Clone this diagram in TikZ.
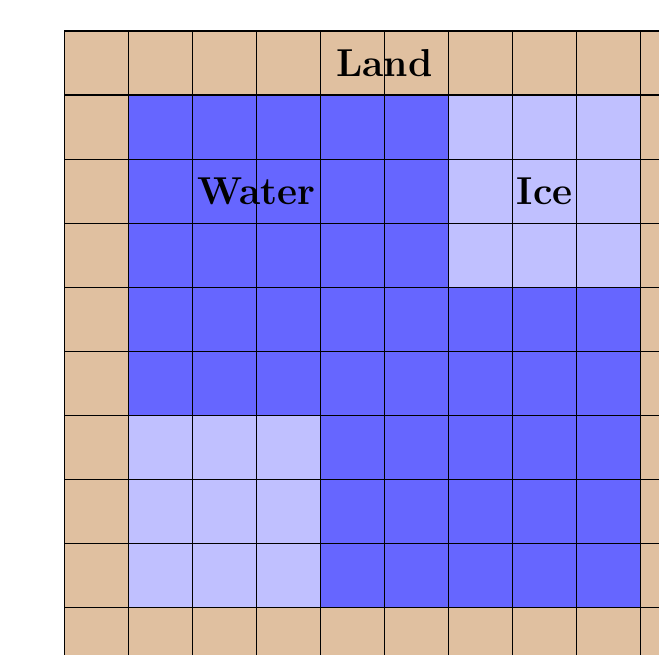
\documentclass[tikz,border=0pt]{standalone}
\definecolor{landcol}{RGB}{224,192,160}
\definecolor{watercol}{RGB}{102,102,255}
\definecolor{icecol}{RGB}{192,192,255}
\tikzset{
    cell/.style={draw=black!60, line width=0.5pt},
    lbl/.style={font=\LARGE\bfseries}
}
\begin{document}
\begin{tikzpicture}
    \useasboundingbox (-1,-9.735) rectangle (9.283,0.483);
    \clip (-1,-9.735) rectangle (9.283,0.483);

    % Land all around
    \draw[cell, fill=landcol] (0,-11) rectangle (11,0);

    % Water block
    \draw[cell, fill=watercol] (1,-1) rectangle (6,-4);
    \draw[cell, fill=watercol] (1,-4) rectangle (9,-6);
    \draw[cell, fill=watercol] (4,-6) rectangle (9,-9);

    % Ice blocks
    \draw[cell, fill=icecol] (6,-1) rectangle (9,-4);
    \draw[cell, fill=icecol] (1,-6) rectangle (4,-9);

    % Labels
    \node[lbl] (land) at (5,-0.5) {Land};
    \node[lbl] (water) at (3,-2.5) {Water};
    \node[lbl] (ice) at (7.5,-2.5) {Ice};

    % Grid on top
    \draw[line width=0.5pt] (0,-11) grid (11,0);
\end{tikzpicture}
\end{document}
